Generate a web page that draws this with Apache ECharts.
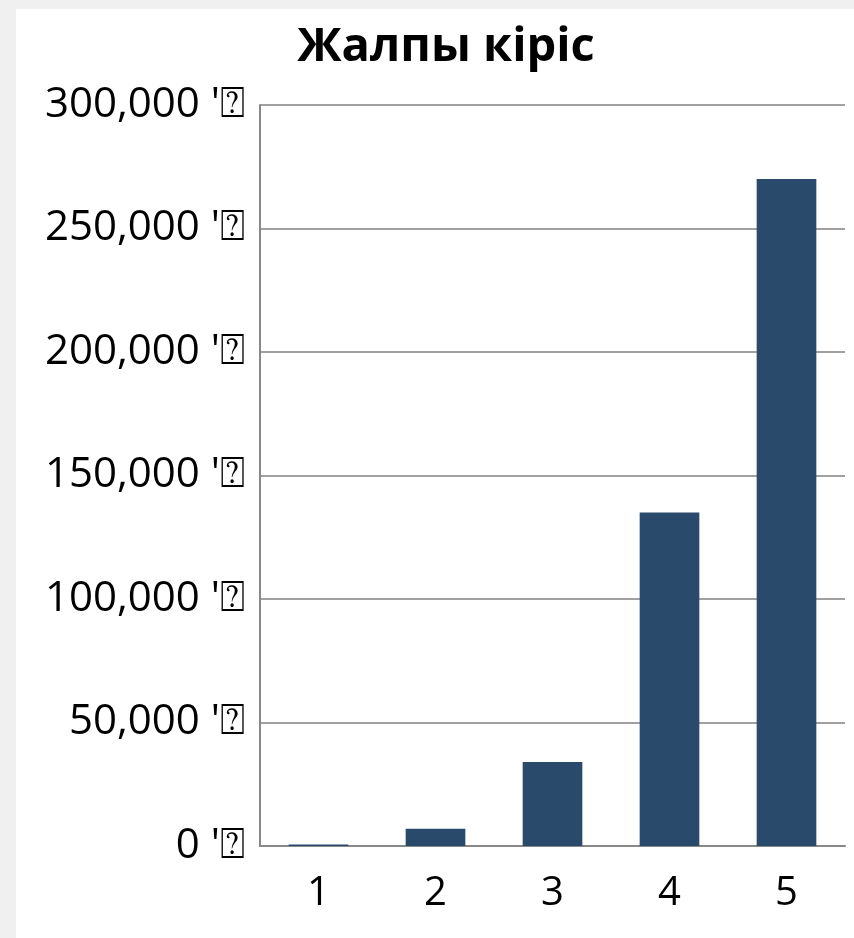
<!DOCTYPE html>
<html>
<head>
<meta charset="utf-8">
<script src="https://cdn.jsdelivr.net/npm/echarts@6/dist/echarts.min.js"></script>
<style>
html,body{margin:0;padding:0;width:854px;height:938px;background:#f0f0f0;overflow:hidden;}
#frame{position:absolute;left:16px;top:9px;width:838px;height:929px;background:#ffffff;}
#chart{width:838px;height:929px;}
</style>
</head>
<body>
<div id="frame"><div id="chart"></div></div>
<script>
const titleText = 'Жалпы кіріс';
const categories = ['1', '2', '3', '4', '5'];
const revenue = [600, 7000, 34000, 135000, 270000];
const currencySuffix = " '⍰";
const yMin = 0, yMax = 300000, yStep = 50000;

const chart = echarts.init(document.getElementById('chart'), null, {renderer: 'canvas'});
chart.setOption({
  animation: false,
  backgroundColor: '#ffffff',
  title: {
    text: titleText,
    left: 425, top: 10, textAlign: 'center',
    textStyle: {fontFamily: 'Open Sans', fontWeight: 'bold', fontSize: 47, color: '#000000'}
  },
  grid: {left: 244, right: 9, top: 96, bottom: 92, containLabel: false},
  xAxis: {
    type: 'category',
    data: categories,
    axisLine: {show: true, lineStyle: {color: '#888888', width: 2}},
    axisTick: {show: false},
    axisLabel: {fontFamily: 'Open Sans', fontSize: 40, color: '#000000', margin: 28}
  },
  yAxis: {
    type: 'value',
    min: yMin, max: yMax, interval: yStep,
    axisLine: {show: true, lineStyle: {color: '#888888', width: 2}},
    axisTick: {show: false},
    splitLine: {show: true, lineStyle: {color: '#808080', width: 1.5}},
    axisLabel: {
      fontFamily: 'Open Sans', fontSize: 42, color: '#000000', margin: 15,
      formatter: v => v.toLocaleString('en-US') + currencySuffix
    }
  },
  series: [{
    type: 'bar',
    data: revenue,
    barWidth: '51%',
    itemStyle: {color: '#2a4a6b'}
  }]
});
</script>
</body>
</html>
